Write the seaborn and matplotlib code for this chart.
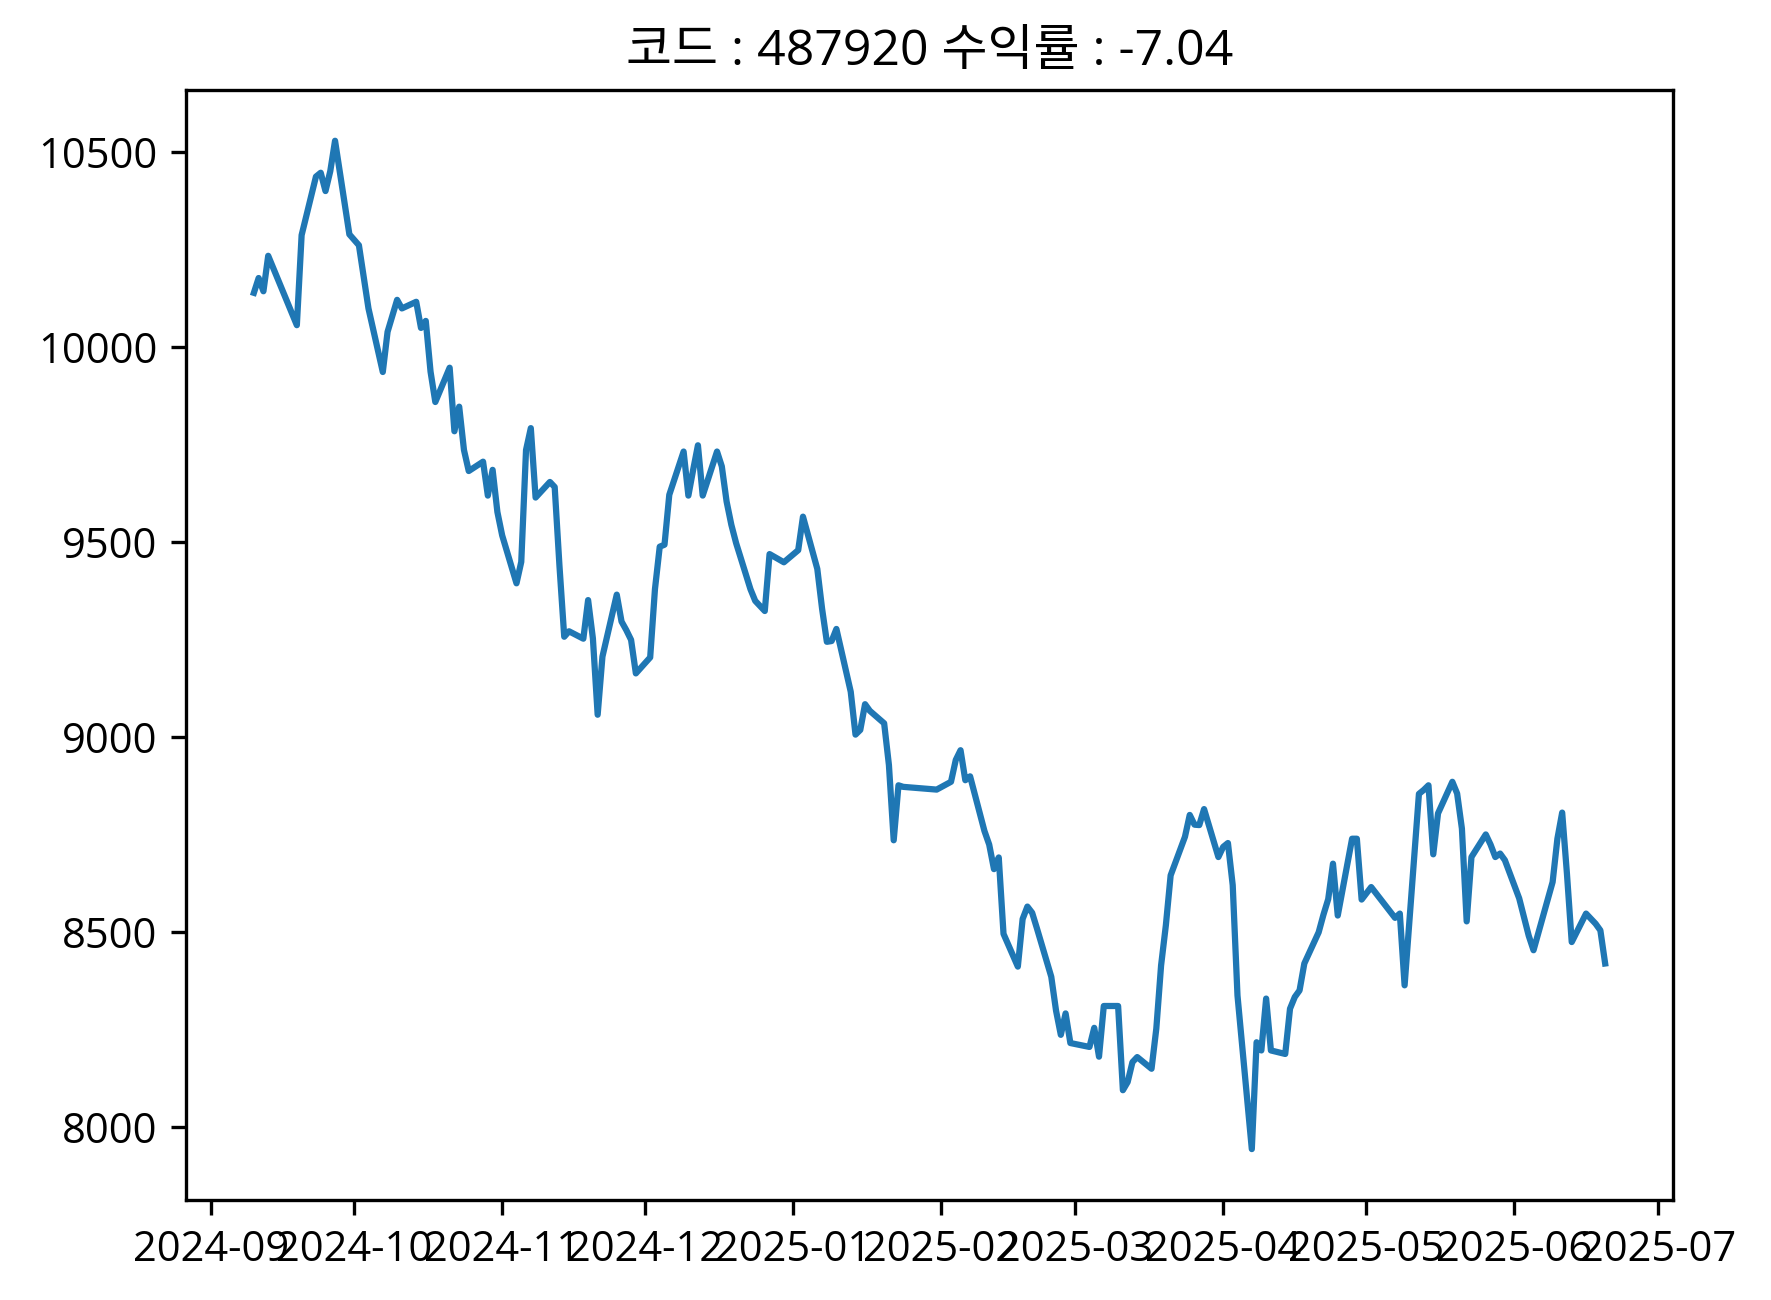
import matplotlib
matplotlib.use("Agg")
import matplotlib.pyplot as plt
import matplotlib.dates as mdates
import seaborn as sns
import pandas as pd

# -----------------------
# Data
# -----------------------
code = "487920"
ret = -7.04

start_date = "2024-09-10"
end_date = "2025-06-20"
# KRX closing days in the period
holidays = [
    "2024-09-16", "2024-09-17", "2024-09-18", "2024-10-01", "2024-10-03",
    "2024-10-09", "2024-12-25", "2024-12-31", "2025-01-01", "2025-01-27",
    "2025-01-28", "2025-01-29", "2025-01-30", "2025-03-03", "2025-05-01",
    "2025-05-05", "2025-05-06", "2025-06-03", "2025-06-06",
]

prices = [
    # 2024-09
    10140, 10178, 10144, 10235, 10057, 10288, 10438, 10448, 10401, 10452, 10530, 10290,
    # 2024-10
    10262, 10100, 9937, 10040, 10122, 10100, 10117, 10050, 10068, 9938,
    9860, 9948, 9785, 9848, 9737, 9683, 9707, 9620, 9686, 9578,
    # 2024-11
    9518, 9395, 9450, 9737, 9793, 9615, 9655, 9642, 9440, 9258, 9272,
    9253, 9352, 9254, 9058, 9207, 9366, 9297, 9275, 9250, 9164,
    # 2024-12
    9205, 9380, 9489, 9494, 9622, 9733, 9620, 9686, 9749, 9620,
    9733, 9695, 9605, 9545, 9498, 9380, 9350, 9324, 9470, 9449,
    # 2025-01
    9480, 9566, 9432, 9330, 9245, 9247, 9278, 9117, 9007, 9019,
    9085, 9068, 9036, 8929, 8736, 8877, 8873, 8866,
    # 2025-02
    8886, 8942, 8967, 8890, 8900, 8760, 8725, 8662, 8692, 8496,
    8412, 8534, 8566, 8550, 8510, 8386, 8299, 8237, 8292, 8216,
    # 2025-03
    8206, 8255, 8181, 8311, 8311, 8095, 8116, 8167, 8180, 8150,
    8253, 8415, 8518, 8646, 8745, 8801, 8776, 8775, 8816, 8693,
    # 2025-04
    8719, 8729, 8621, 8338, 7944, 8218, 8197, 8330, 8197, 8188, 8304,
    8334, 8351, 8420, 8500, 8545, 8585, 8676, 8543, 8740, 8740, 8584,
    # 2025-05
    8616, 8537, 8548, 8364, 8855, 8865, 8877, 8700, 8805, 8886,
    8856, 8766, 8528, 8693, 8751, 8725, 8693, 8702, 8685,
    # 2025-06
    8587, 8491, 8454, 8629, 8740, 8807, 8650, 8475, 8548, 8535, 8522, 8505, 8420,
]

dates = pd.bdate_range(start_date, end_date, freq="C", holidays=holidays)
df = pd.DataFrame({"date": dates, "close": prices})

# -----------------------
# Plot
# -----------------------
# digits/latin from Open Sans, hangul falls back to Noto Sans CJK KR
plt.rcParams["font.family"] = ["Open Sans", "Noto Sans CJK KR", "DejaVu Sans"]

fig = plt.figure(figsize=(1771 / 300, 1300 / 300), dpi=300)
ax = fig.add_axes([0.1052, 0.0773, 0.8393, 0.8532])

sns.lineplot(data=df, x="date", y="close", ax=ax, color="#1f77b4", linewidth=1.5)

ax.set_title(f"코드 : {code} 수익률 : {ret}")
ax.set_xlabel("")
ax.set_ylabel("")
ax.xaxis.set_major_locator(mdates.MonthLocator())
ax.xaxis.set_major_formatter(mdates.DateFormatter("%Y-%m"))

fig.savefig("out.png", dpi=300)
